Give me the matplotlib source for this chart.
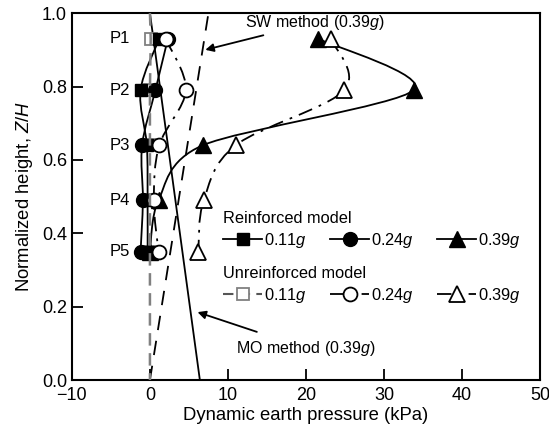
import matplotlib.pyplot as plt
from matplotlib.lines import Line2D
from matplotlib.path import Path
from matplotlib.patches import PathPatch

plt.rcParams['font.family'] = ['Liberation Sans', 'DejaVu Sans']
plt.rcParams['mathtext.fontset'] = 'custom'
plt.rcParams['mathtext.rm'] = 'Liberation Sans'
plt.rcParams['mathtext.it'] = 'Liberation Sans:italic'

# normalized heights of the gauges P1..P5
z = [0.93, 0.79, 0.64, 0.49, 0.35]
pnames = ['P1', 'P2', 'P3', 'P4', 'P5']

# reinforced model (kPa)
r011 = [1.2, -1.2, -0.4, -0.3, -0.3]
r024 = [2.3, 0.7, -1.0, -0.9, -1.2]
r039 = [21.6, 33.8, 6.8, 1.1, 0.0]

# unreinforced model (kPa)
u011 = [0.1, 0.0, 0.0, 0.0, 0.0]
u024 = [2.0, 4.6, 1.2, 0.5, 1.1]
u039 = [23.2, 24.9, 11.0, 6.9, 6.2]

# gray dashed line for unreinforced 0.11g, full height
u011_line_z = [1.0, 0.93, 0.79, 0.64, 0.49, 0.35, 0.0]
u011_line_x = [0.0, 0.1, 0.0, 0.0, 0.0, 0.0, 0.0]

# pseudo-static methods (0.39g)
sw_z = [0.0, 1.0]
sw_x = [0.0, 7.5]
mo_z = [0.0, 1.0]
mo_x = [6.4, 0.0]

dashdot = (0, (8, 4, 1.5, 4))


def smooth(ax, xs, ys, t=6.0, **kw):
    # smooth curve through the points (Catmull-Rom as cubic Bezier)
    pts = list(zip(xs, ys))
    n = len(pts)
    verts = [pts[0]]
    codes = [Path.MOVETO]
    for i in range(n - 1):
        p0 = pts[max(i - 1, 0)]
        p1 = pts[i]
        p2 = pts[i + 1]
        p3 = pts[min(i + 2, n - 1)]
        c1 = (p1[0] + (p2[0] - p0[0]) / t, p1[1] + (p2[1] - p0[1]) / t)
        c2 = (p2[0] - (p3[0] - p1[0]) / t, p2[1] - (p3[1] - p1[1]) / t)
        verts += [c1, c2, p2]
        codes += [Path.CURVE4] * 3
    ax.add_patch(PathPatch(Path(verts, codes), fill=False, **kw))


fig = plt.figure(figsize=(5.49, 4.38), dpi=100)
ax = fig.add_axes([0.131, 0.1324, 0.8526, 0.8376])

lw = 1.3
ax.plot(sw_x, sw_z, color='black', lw=lw, ls=(0, (8, 6)), zorder=2)
ax.plot(mo_x, mo_z, color='black', lw=lw, zorder=2)

# open markers (unreinforced 0.11g) under its gray line
ax.plot(u011, z, ls='none', marker='s', ms=9, mfc='white', mec='gray', mew=1.3, zorder=3)
ax.plot(u011_line_x, u011_line_z, color='gray', lw=1.8, ls=(0, (5, 3)), zorder=6)

smooth(ax, r011, z, color='black', lw=lw, zorder=4)
smooth(ax, r024, z, color='black', lw=lw, zorder=4)
smooth(ax, r039, z, t=7.0, color='black', lw=lw, zorder=4)
ax.plot(r011, z, ls='none', color='black', marker='s', ms=9, zorder=4)
ax.plot(r024, z, ls='none', color='black', marker='o', ms=10, zorder=4)
ax.plot(r039, z, ls='none', color='black', marker='^', ms=11, zorder=4)

smooth(ax, u024, z, color='black', lw=lw, ls=dashdot, zorder=5)
smooth(ax, u039, z, color='black', lw=lw, ls=dashdot, zorder=5)
ax.plot(u024, z, ls='none', marker='o', ms=10, mfc='white', mec='black', mew=1.3, zorder=5)
ax.plot(u039, z, ls='none', marker='^', ms=11, mfc='white', mec='black', mew=1.3, zorder=5)

for name, zz in zip(pnames, z):
    ax.text(-2.6, zz, name, ha='right', va='center', fontsize=12)

ax.annotate('SW method (0.39$g$)', xy=(7.1, 0.90), xytext=(12.2, 0.975),
            ha='left', va='center', fontsize=11.5,
            arrowprops=dict(arrowstyle='-|>', color='black', lw=1.3,
                            mutation_scale=12, shrinkA=2, shrinkB=0))
ax.annotate('MO method (0.39$g$)', xy=(6.1, 0.185), xytext=(11.0, 0.087),
            ha='left', va='center', fontsize=11.5,
            arrowprops=dict(arrowstyle='-|>', color='black', lw=1.3,
                            mutation_scale=12, shrinkA=9, shrinkB=0))

# legends
h_r = [Line2D([], [], color='black', lw=lw, marker='s', ms=9),
       Line2D([], [], color='black', lw=lw, marker='o', ms=10),
       Line2D([], [], color='black', lw=lw, marker='^', ms=11)]
h_u = [Line2D([], [], color='#555555', lw=1.5, ls=(0, (5, 3)), marker='s', ms=9,
              mfc='white', mec='gray', mew=1.3),
       Line2D([], [], color='black', lw=lw, ls=dashdot, marker='o', ms=10,
              mfc='white', mec='black', mew=1.3),
       Line2D([], [], color='black', lw=lw, ls=dashdot, marker='^', ms=11,
              mfc='white', mec='black', mew=1.3)]
labels = ['0.11$g$', '0.24$g$', '0.39$g$']

legkw = dict(ncol=3, frameon=False, loc='upper left', borderpad=0,
             handlelength=2.4, handletextpad=0.12, columnspacing=1.4,
             labelspacing=0.3, alignment='left', fontsize=11.8, title_fontsize=11.8)
leg1 = ax.legend(h_r, labels, title='Reinforced model',
                 bbox_to_anchor=(0.305, 0.484), **legkw)
ax.add_artist(leg1)
ax.legend(h_u, labels, title='Unreinforced model',
          bbox_to_anchor=(0.305, 0.333), **legkw)

ax.set_xlim(-10, 50)
ax.set_ylim(0, 1.0)
ax.set_xticks([-10, 0, 10, 20, 30, 40, 50])
ax.set_xticklabels(['\u221210', '0', '10', '20', '30', '40', '50'])
ax.set_yticks([0, 0.2, 0.4, 0.6, 0.8, 1.0])
ax.set_yticklabels(['0.0', '0.2', '0.4', '0.6', '0.8', '1.0'])
ax.tick_params(direction='in', length=8, width=1.3, labelsize=13)
ax.tick_params(axis='x', pad=5)
for s in ax.spines.values():
    s.set_linewidth(1.5)

ax.set_xlabel('Dynamic earth pressure (kPa)', fontsize=13.3, labelpad=2)
ax.set_ylabel('Normalized height, $Z/H$', fontsize=13.3, labelpad=5)

fig.savefig('out.png', dpi=100)
